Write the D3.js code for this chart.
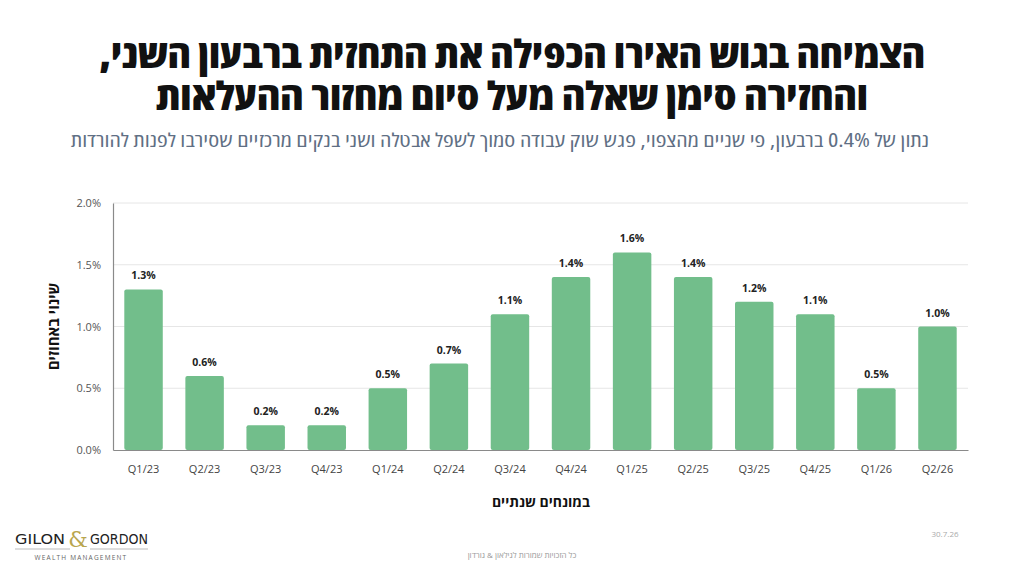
<!DOCTYPE html>
<html><head><meta charset="utf-8">
<script src="https://cdn.jsdelivr.net/npm/d3@7"></script>
<style>
html,body{margin:0;padding:0;background:#fff;}
svg{display:block;}
</style></head>
<body>
<svg id="chart" width="1024" height="576"></svg>
<script>
const categories = ["Q1/23","Q2/23","Q3/23","Q4/23","Q1/24","Q2/24","Q3/24","Q4/24","Q1/25","Q2/25","Q3/25","Q4/25","Q1/26","Q2/26"];
const values = [1.3,0.6,0.2,0.2,0.5,0.7,1.1,1.4,1.6,1.4,1.2,1.1,0.5,1.0];
const yTicks = [0,0.5,1.0,1.5,2.0];
const titleLines = ["הצמיחה בגוש האירו הכפילה את התחזית ברבעון השני,","והחזירה סימן שאלה מעל סיום מחזור ההעלאות"];
const subtitle = "נתון של 0.4% ברבעון, פי שניים מהצפוי, פגש שוק עבודה סמוך לשפל אבטלה ושני בנקים מרכזיים שסירבו לפנות להורדות";
const yTitle = "שינוי באחוזים";
const xTitle = "במונחים שנתיים";
const dateText = "30.7.26";
const footerText = "כל הזכויות שמורות לגילאון & גורדון";

const svg = d3.select("#chart");
const hebFont = "'Open Sans','Liberation Sans','DejaVu Sans',sans-serif";
const numFont = "'Open Sans','Noto Sans',sans-serif";

const L = 113, R = 968, T = 203, B = 450;
const x = d3.scaleBand().domain(categories).range([L, R]).paddingInner(0.37).paddingOuter(0.185);
const y = d3.scaleLinear().domain([0, 2.0]).range([B, T]);

// title
const titleLen = [826, 712];
svg.append("g").selectAll("text").data(titleLines).join("text")
  .attr("x", 512).attr("y", (d,i) => 68 + i*42)
  .attr("text-anchor", "middle").attr("direction", "rtl")
  .attr("font-family", hebFont).attr("font-weight", 800).attr("font-size", 39)
  .style("font-stretch", "condensed")
  .attr("textLength", (d,i) => titleLen[i]).attr("lengthAdjust", "spacingAndGlyphs")
  .attr("fill", "#111").text(d => d);

svg.append("text").attr("x", 500).attr("y", 147)
  .attr("text-anchor", "middle").attr("direction", "rtl")
  .attr("font-family", hebFont).attr("font-size", 19).attr("font-weight", 500)
  .style("font-stretch", "condensed")
  .attr("textLength", 858).attr("lengthAdjust", "spacingAndGlyphs")
  .attr("fill", "#5f6f84").text(subtitle);

// gridlines
svg.append("g").selectAll("line").data(yTicks.filter(d => d > 0)).join("line")
  .attr("x1", L).attr("x2", R).attr("y1", d => y(d)).attr("y2", d => y(d))
  .attr("stroke", "#e6e6e6").attr("stroke-width", 1);

// y axis
const yAxis = svg.append("g").attr("transform", `translate(${L},0)`)
  .call(d3.axisLeft(y).tickValues(yTicks).tickFormat(d => d.toFixed(1) + "%").tickSize(0).tickPadding(12));
yAxis.select(".domain").attr("stroke", "#8a8a8a").attr("stroke-width", 1.2);
yAxis.selectAll("text").attr("font-family", numFont).attr("font-size", 11).attr("fill", "#555");

// bars
svg.append("g").selectAll("rect").data(values).join("rect")
  .attr("x", (d,i) => x(categories[i])).attr("width", x.bandwidth())
  .attr("y", d => y(d)).attr("height", d => B - y(d))
  .attr("rx", 2).attr("fill", "#72be8b");

// x axis
const xAxis = svg.append("g").attr("transform", `translate(0,${B})`)
  .call(d3.axisBottom(x).tickSize(0).tickPadding(15));
xAxis.select(".domain").attr("stroke", "#8a8a8a").attr("stroke-width", 1.2);
xAxis.selectAll("text").attr("font-family", numFont).attr("font-size", 11).attr("fill", "#444");

// value labels
svg.append("g").selectAll("text").data(values).join("text")
  .attr("x", (d,i) => x(categories[i]) + x.bandwidth()/2)
  .attr("y", d => y(d) - 10)
  .attr("text-anchor", "middle")
  .attr("font-family", numFont).attr("font-weight", 700).attr("font-size", 10.5)
  .attr("fill", "#222").text(d => d.toFixed(1) + "%");

// axis titles
svg.append("text").attr("transform", `translate(59,${(T+B)/2}) rotate(-90)`)
  .attr("text-anchor", "middle").attr("direction", "rtl")
  .attr("font-family", hebFont).attr("font-weight", 700).attr("font-size", 15)
  .attr("fill", "#111").text(yTitle);

svg.append("text").attr("x", 541).attr("y", 507)
  .attr("text-anchor", "middle").attr("direction", "rtl")
  .attr("font-family", hebFont).attr("font-weight", 700).attr("font-size", 14)
  .attr("fill", "#111").text(xTitle);

// footer
svg.append("text").attr("x", 945).attr("y", 537).attr("text-anchor", "middle")
  .attr("font-family", numFont).attr("font-size", 8).attr("fill", "#aaa").text(dateText);
svg.append("text").attr("x", 522).attr("y", 558).attr("text-anchor", "middle").attr("direction", "rtl")
  .attr("font-family", hebFont).attr("font-size", 8).attr("fill", "#999").text(footerText);

// logo
const logo = svg.append("g");
logo.append("text").attr("x", 15).attr("y", 544)
  .attr("font-family", "'DejaVu Sans Condensed','Liberation Sans Narrow',sans-serif").attr("font-size", 14)
  .attr("textLength", 50).attr("lengthAdjust", "spacingAndGlyphs").attr("fill", "#222").text("GILON");
logo.append("text").attr("x", 78).attr("y", 547).attr("text-anchor", "middle")
  .attr("font-family", "'DejaVu Serif','Liberation Serif',serif").attr("font-size", 22)
  .attr("fill", "#b9a64e").text("&");
logo.append("text").attr("x", 90).attr("y", 544)
  .attr("font-family", "'DejaVu Sans Condensed','Liberation Sans Narrow',sans-serif").attr("font-size", 14)
  .attr("textLength", 58).attr("lengthAdjust", "spacingAndGlyphs").attr("fill", "#222").text("GORDON");
logo.append("line").attr("x1", 15).attr("x2", 70).attr("y1", 549).attr("y2", 549).attr("stroke", "#bbb");
logo.append("line").attr("x1", 90).attr("x2", 148).attr("y1", 549).attr("y2", 549).attr("stroke", "#bbb");
logo.append("text").attr("x", 81).attr("y", 560).attr("text-anchor", "middle")
  .attr("font-family", "'Open Sans',sans-serif").attr("font-size", 6.5)
  .attr("letter-spacing", 1.2).attr("fill", "#666").text("WEALTH MANAGEMENT");
</script>
</body></html>
